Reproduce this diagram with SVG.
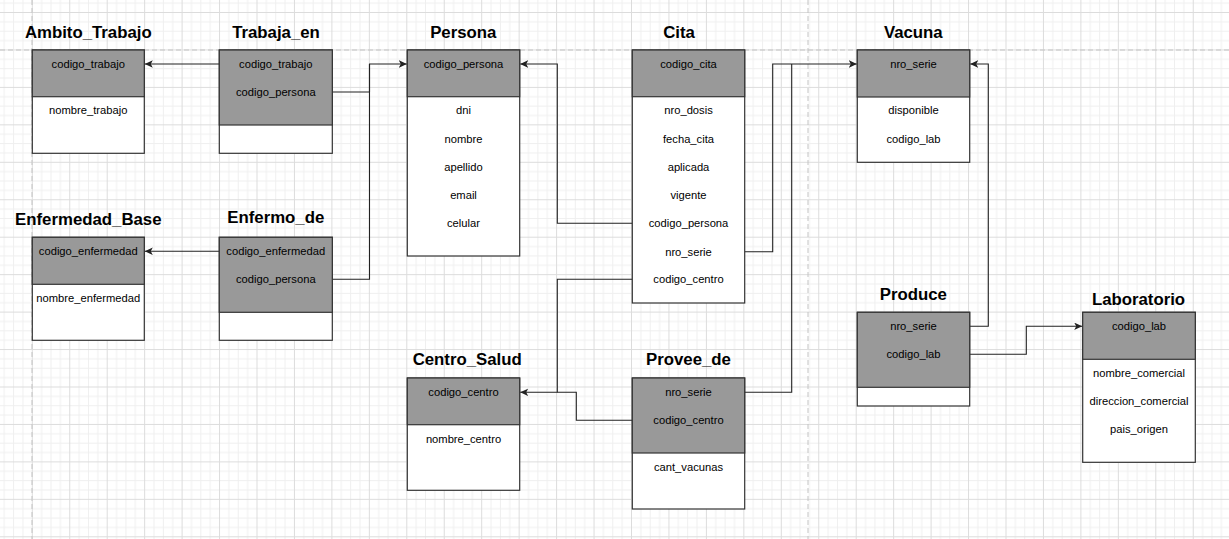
<svg xmlns="http://www.w3.org/2000/svg" width="1229" height="539" viewBox="0 0 1229 539">
<style>
.hd{fill:#999999;stroke:#333333;stroke-width:1.2}
.bd{fill:#ffffff;stroke:#333333;stroke-width:1.2}
.tt{font-family:"Liberation Sans",Arial,sans-serif;font-size:16.8px;font-weight:bold;fill:#000;text-anchor:middle}
.f{font-family:"Liberation Sans",Arial,sans-serif;font-size:11.2px;fill:#000;text-anchor:middle}
.c{fill:none;stroke:#222222;stroke-width:1.1}
.pg{stroke:#c4c4c4;stroke-width:1;stroke-dasharray:5 3;fill:none}
</style>
<defs>
<pattern id="grid" x="31.8" y="12" width="37.45" height="37.45" patternUnits="userSpaceOnUse">
<path d="M9.86,0V37.45M19.22,0V37.45M28.59,0V37.45M0,9.86H37.45M0,19.22H37.45M0,28.59H37.45" stroke="#efefef" stroke-width="1"/>
<path d="M0.5,0V37.45M0,0.5H37.45" stroke="#dcdcdc" stroke-width="1"/>
</pattern>
<marker id="arr" markerUnits="userSpaceOnUse" markerWidth="9" markerHeight="8" refX="8" refY="3.75" orient="auto">
<path d="M0,0 L8,3.75 L0,7.5 L2,3.75 z" fill="#222222"/>
</marker>
</defs>
<rect x="0" y="0" width="1229" height="539" fill="#ffffff"/>
<rect x="0" y="0" width="1229" height="539" fill="url(#grid)"/>
<g id="page-breaks">
<path class="pg" d="M32,0V539M808,0V539M0,50H1229"/>
</g>

<g id="connectors">
<path class="c" d="M219.3,64H144.8" marker-end="url(#arr)"/>
<path class="c" d="M332.3,92H369.5V64H406.8" marker-end="url(#arr)"/>
<path class="c" d="M332.3,279.3H369.5V64"/>
<path class="c" d="M219.3,251.3H144.8" marker-end="url(#arr)"/>
<path class="c" d="M632.3,223.3H557.3V64H520.2" marker-end="url(#arr)"/>
<path class="c" d="M744.7,251.7H772.7V64H856.8" marker-end="url(#arr)"/>
<path class="c" d="M744.7,392.3H791.7V64"/>
<path class="c" d="M632.3,279.3H557.3V392.3H520.2" marker-end="url(#arr)"/>
<path class="c" d="M632.3,420.3H576.3V392.3H557.3"/>
<path class="c" d="M969.7,326.3H988.3V64H970.2" marker-end="url(#arr)"/>
<path class="c" d="M969.7,354.3H1026.3V326.3H1082.2" marker-end="url(#arr)"/>
</g>

<g id="Ambito_Trabajo">
<text class="tt" x="88.3" y="37.6">Ambito_Trabajo</text>
<rect class="bd" x="32.3" y="50" width="112" height="103.3"/>
<rect class="hd" x="32.3" y="50" width="112" height="46.7"/>
<text class="f" x="88.3" y="68">codigo_trabajo</text>
<text class="f" x="88.3" y="114">nombre_trabajo</text>
</g>

<g id="Trabaja_en">
<text class="tt" x="276" y="37.6">Trabaja_en</text>
<rect class="bd" x="219.3" y="50" width="113" height="103.3"/>
<rect class="hd" x="219.3" y="50" width="113" height="75"/>
<text class="f" x="275.8" y="68">codigo_trabajo</text>
<text class="f" x="275.8" y="96">codigo_persona</text>
</g>

<g id="Persona">
<text class="tt" x="463.3" y="37.6">Persona</text>
<rect class="bd" x="407.3" y="50" width="112.4" height="206"/>
<rect class="hd" x="407.3" y="50" width="112.4" height="46.7"/>
<text class="f" x="463.5" y="68">codigo_persona</text>
<text class="f" x="463.5" y="114">dni</text>
<text class="f" x="463.5" y="143">nombre</text>
<text class="f" x="463.5" y="171">apellido</text>
<text class="f" x="463.5" y="199">email</text>
<text class="f" x="463.5" y="227">celular</text>
</g>

<g id="Cita">
<text class="tt" x="679" y="37.6">Cita</text>
<rect class="bd" x="632.3" y="50" width="112.4" height="253"/>
<rect class="hd" x="632.3" y="50" width="112.4" height="46.7"/>
<text class="f" x="688.5" y="68">codigo_cita</text>
<text class="f" x="688.5" y="114">nro_dosis</text>
<text class="f" x="688.5" y="143">fecha_cita</text>
<text class="f" x="688.5" y="171">aplicada</text>
<text class="f" x="688.5" y="199">vigente</text>
<text class="f" x="688.5" y="227.3">codigo_persona</text>
<text class="f" x="688.5" y="255.7">nro_serie</text>
<text class="f" x="688.5" y="283.3">codigo_centro</text>
</g>

<g id="Vacuna">
<text class="tt" x="913.3" y="37.6">Vacuna</text>
<rect class="bd" x="857.3" y="50" width="112.4" height="112.3"/>
<rect class="hd" x="857.3" y="50" width="112.4" height="47"/>
<text class="f" x="913.5" y="68">nro_serie</text>
<text class="f" x="913.5" y="114">disponible</text>
<text class="f" x="913.5" y="143">codigo_lab</text>
</g>

<g id="Enfermedad_Base">
<text class="tt" x="88.3" y="225.2">Enfermedad_Base</text>
<rect class="bd" x="32.3" y="237.3" width="112" height="103"/>
<rect class="hd" x="32.3" y="237.3" width="112" height="47"/>
<text class="f" x="88.3" y="255.3">codigo_enfermedad</text>
<text class="f" x="88.3" y="302.3">nombre_enfermedad</text>
</g>

<g id="Enfermo_de">
<text class="tt" x="275.8" y="223.2">Enfermo_de</text>
<rect class="bd" x="219.3" y="237.3" width="113" height="103"/>
<rect class="hd" x="219.3" y="237.3" width="113" height="75"/>
<text class="f" x="275.8" y="255.3">codigo_enfermedad</text>
<text class="f" x="275.8" y="283.3">codigo_persona</text>
</g>

<g id="Centro_Salud">
<text class="tt" x="467.2" y="365.2">Centro_Salud</text>
<rect class="bd" x="407.3" y="378" width="112.4" height="112.3"/>
<rect class="hd" x="407.3" y="378" width="112.4" height="46.7"/>
<text class="f" x="463.5" y="396.3">codigo_centro</text>
<text class="f" x="463.5" y="443.3">nombre_centro</text>
</g>

<g id="Provee_de">
<text class="tt" x="688.5" y="365.2">Provee_de</text>
<rect class="bd" x="632.3" y="378" width="112.4" height="131"/>
<rect class="hd" x="632.3" y="378" width="112.4" height="75"/>
<text class="f" x="688.5" y="396.3">nro_serie</text>
<text class="f" x="688.5" y="424.3">codigo_centro</text>
<text class="f" x="688.5" y="471.3">cant_vacunas</text>
</g>

<g id="Produce">
<text class="tt" x="913.3" y="300.2">Produce</text>
<rect class="bd" x="857.3" y="312.3" width="112.4" height="93.7"/>
<rect class="hd" x="857.3" y="312.3" width="112.4" height="75"/>
<text class="f" x="913.5" y="330.3">nro_serie</text>
<text class="f" x="913.5" y="358.3">codigo_lab</text>
</g>

<g id="Laboratorio">
<text class="tt" x="1138.5" y="304.9">Laboratorio</text>
<rect class="bd" x="1082.7" y="312.3" width="112.6" height="150"/>
<rect class="hd" x="1082.7" y="312.3" width="112.6" height="47"/>
<text class="f" x="1139" y="330.3">codigo_lab</text>
<text class="f" x="1139" y="377.3">nombre_comercial</text>
<text class="f" x="1139" y="405.3">direccion_comercial</text>
<text class="f" x="1139" y="433.3">pais_origen</text>
</g>
</svg>
